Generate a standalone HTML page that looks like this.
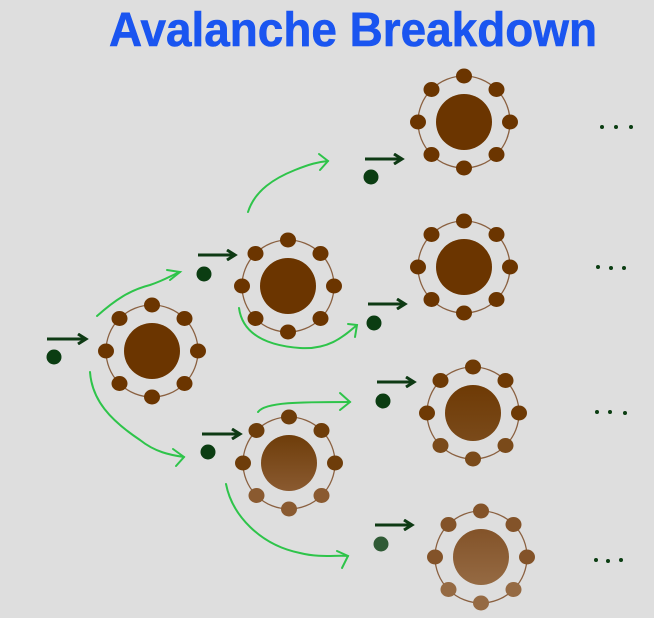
<!DOCTYPE html>
<html><head><meta charset="utf-8"><style>
html,body{margin:0;padding:0;background:#dedede;}
svg{display:block;}
</style></head><body>
<svg id="s" width="654" height="618" viewBox="0 0 654 618" xmlns="http://www.w3.org/2000/svg">
<defs>
<marker id="ah" markerWidth="12" markerHeight="12" refX="9" refY="6" orient="auto" markerUnits="userSpaceOnUse">
<path d="M1,1 L9,6 L1,11" fill="none" stroke="#0e3a14" stroke-width="3"/>
</marker>
</defs>
<rect width="654" height="618" fill="#dedede"/>
<text x="109" y="46" font-family="Liberation Sans, sans-serif" font-weight="bold" font-size="48" fill="#1a55f0" stroke="#1a55f0" stroke-width="0.6" textLength="488" lengthAdjust="spacingAndGlyphs">Avalanche Breakdown</text>
<g id="atoms"></g>
<g stroke="#0e3a14" stroke-width="3" fill="none">
<line x1="47" y1="339" x2="86" y2="339" marker-end="url(#ah)"/>
<line x1="198" y1="255" x2="235" y2="255" marker-end="url(#ah)"/>
<line x1="202" y1="434" x2="240" y2="434" marker-end="url(#ah)"/>
<line x1="365" y1="159" x2="402" y2="159" marker-end="url(#ah)"/>
<line x1="368" y1="304" x2="405" y2="304" marker-end="url(#ah)"/>
<line x1="377" y1="382" x2="414" y2="382" marker-end="url(#ah)"/>
<line x1="375" y1="525" x2="412" y2="525" marker-end="url(#ah)"/>
</g>
<g fill="#0b3d12">
<circle cx="54" cy="357" r="7.5"/>
<circle cx="204" cy="274" r="7.5"/>
<circle cx="208" cy="452" r="7.5"/>
<circle cx="371" cy="177" r="7.5"/>
<circle cx="374" cy="323" r="7.5"/>
<circle cx="383" cy="401" r="7.5"/>
<circle cx="381" cy="544" r="7.5" fill="#2f5a35"/>
<circle cx="602" cy="127" r="2"/><circle cx="616" cy="127" r="2"/><circle cx="631" cy="127" r="2"/>
<circle cx="598" cy="267" r="2"/><circle cx="611" cy="268" r="2"/><circle cx="624" cy="268" r="2"/>
<circle cx="597" cy="412" r="2"/><circle cx="610" cy="412" r="2"/><circle cx="625" cy="413" r="2"/>
<circle cx="596" cy="560" r="2"/><circle cx="608" cy="561" r="2"/><circle cx="621" cy="560" r="2"/>
</g>
<g stroke="#2ec44a" stroke-width="2" fill="none" stroke-linecap="round">
<path d="M97,316 C115,300 130,290 150,285 C165,280 172,275 180,272"/>
<path d="M167,270 L180,272 L170,280"/>
<path d="M90,372 C92,400 110,420 140,440 C155,452 170,455 184,457"/>
<path d="M173,449 L184,457 L176,466"/>
<path d="M248,212 C255,190 275,178 295,170 C310,164 318,162 328,161"/>
<path d="M319,154 L328,161 L320,170"/>
<path d="M239,308 C242,330 260,345 300,348 C330,350 345,335 357,325"/>
<path d="M348,324 L357,325 L355,337"/>
<path d="M258,412 C265,402 300,402 350,402"/>
<path d="M340,393 L350,402 L340,410"/>
<path d="M226,484 C232,515 260,545 300,553 C320,558 335,555 348,556"/>
<path d="M337,551 L348,556 L342,568"/>
</g>
</svg>
<script>
var atoms=[
 [152,351,'#6b3500','#6b3500'],
 [288,286,'#6b3500','#6b3500'],
 [289,463,'#6e3d0a','#8a5a30'],
 [464,122,'#6b3500','#6b3500'],
 [464,267,'#6b3500','#6b3500'],
 [473,413,'#6e3a05','#7a4a1a'],
 [481,557,'#835329','#956a43']
];
var g=document.getElementById('atoms'),h='';
atoms.forEach(function(a,i){
 var cx=a[0],cy=a[1];
 h+='<defs><linearGradient id="g'+i+'" x1="0" y1="0" x2="0" y2="1"><stop offset="0" stop-color="'+a[2]+'"/><stop offset="1" stop-color="'+a[3]+'"/></linearGradient></defs>';
 h+='<circle cx="'+cx+'" cy="'+cy+'" r="46" fill="none" stroke="#8a6040" stroke-width="1.3"/>';
 h+='<circle cx="'+cx+'" cy="'+cy+'" r="28" fill="url(#g'+i+')"/>';
 for(var k=0;k<8;k++){var t=k*Math.PI/4;
  var ex=cx+46*Math.cos(t),ey=cy+46*Math.sin(t);
  var c=(ey>cy+10)?a[3]:a[2];
  h+='<ellipse cx="'+ex.toFixed(1)+'" cy="'+ey.toFixed(1)+'" rx="8" ry="7.5" fill="'+c+'"/>';}
});
g.innerHTML=h;
</script>
</body></html>
